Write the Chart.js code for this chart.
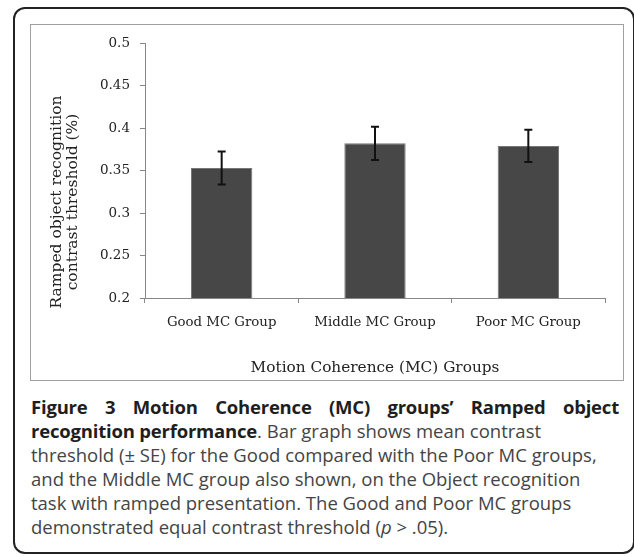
<!DOCTYPE html>
<html>
<head>
<meta charset="utf-8">
<script src="https://cdn.jsdelivr.net/npm/chart.js"></script>
<style>
  html, body { margin: 0; padding: 0; background: #fff; }
  body { width: 634px; height: 557px; position: relative; overflow: hidden; }
  #frame { position: absolute; left: 13px; top: 7px; width: 622px; height: 547px;
           border: 2px solid #222; border-radius: 12px; box-sizing: border-box; }
  #box { position: absolute; left: 30px; top: 24px; width: 594px; height: 357px;
         border: 1.5px solid #a0a0a0; box-sizing: border-box; }
  #myChart { position: absolute; left: 31px; top: 25px; }
  #caption { position: absolute; left: 31px; top: 395px; width: 588px;
             font-family: "Open Sans", sans-serif; font-size: 18.5px; line-height: 24px; color: #444; }
  #caption div { white-space: nowrap; }
  #caption b { color: #1e1e1e; letter-spacing: -0.2px; }
  .just { text-align: justify; text-align-last: justify; white-space: normal !important; }
</style>
</head>
<body>
<div id="frame"></div>
<div id="box"></div>
<canvas id="myChart" width="591" height="354"></canvas>
<div id="caption">
  <div class="just"><b>Figure 3 Motion Coherence (MC) groups’ Ramped object</b></div>
  <div><b>recognition performance</b>. Bar graph shows mean contrast</div>
  <div>threshold (± SE) for the Good compared with the Poor MC groups,</div>
  <div>and the Middle MC group also shown, on the Object recognition</div>
  <div>task with ramped presentation. The Good and Poor MC groups</div>
  <div>demonstrated equal contrast threshold (<i>p</i> &gt; .05).</div>
</div>
<script>
// data
var groups = ['Good MC Group', 'Middle MC Group', 'Poor MC Group'];
var means = [0.353, 0.382, 0.379];
var se = [0.0195, 0.0195, 0.019];
var yTicks = ['0.2', '0.25', '0.3', '0.35', '0.4', '0.45', '0.5'];
var yTitle = ['Ramped object recognition', 'contrast threshold (%)'];

var serif = 'DejaVu Serif';

// error bars (+/- SE) on top of the bars
var errorBars = {
    id: 'errorBars',
    afterDatasetsDraw: function (chart) {
        var ctx = chart.ctx;
        var y = chart.scales.y;
        var bars = chart.getDatasetMeta(0).data;
        ctx.save();
        ctx.strokeStyle = '#111';
        ctx.lineWidth = 2;
        bars.forEach(function (bar, i) {
            var top = y.getPixelForValue(means[i] + se[i]);
            var bot = y.getPixelForValue(means[i] - se[i]);
            ctx.beginPath();
            ctx.moveTo(bar.x, top); ctx.lineTo(bar.x, bot);
            ctx.moveTo(bar.x - 4, top); ctx.lineTo(bar.x + 4, top);
            ctx.moveTo(bar.x - 4, bot); ctx.lineTo(bar.x + 4, bot);
            ctx.stroke();
        });
        ctx.restore();
    }
};

// excel centres the y title on the whole chart box, not on the plot area
var sideTitle = {
    id: 'sideTitle',
    afterDraw: function (chart) {
        var ctx = chart.ctx;
        ctx.save();
        ctx.translate(26, chart.height / 2);
        ctx.rotate(-Math.PI / 2);
        ctx.fillStyle = '#222';
        ctx.font = '15.5px "' + serif + '"';
        ctx.textAlign = 'center';
        ctx.textBaseline = 'middle';
        yTitle.forEach(function (t, i) { ctx.fillText(t, 0, i * 16); });
        ctx.restore();
    }
};

var ctx = document.getElementById('myChart').getContext('2d');
var chart = new Chart(ctx, {
    type: 'bar',
    data: {
        labels: groups,
        datasets: [{
            data: means,
            backgroundColor: '#464746',
            borderColor: '#767676',
            borderWidth: 1,
            barPercentage: 0.4,
            categoryPercentage: 1
        }]
    },
    options: {
        responsive: false,
        animation: false,
        layout: { padding: { top: 18, right: 17, left: 0, bottom: 0 } },
        plugins: { legend: { display: false }, tooltip: { enabled: false } },
        scales: {
            y: {
                min: 0.2,
                max: 0.5,
                afterFit: function (s) { s.width = 114; },
                ticks: {
                    stepSize: 0.05,
                    padding: 10,
                    color: '#222',
                    font: { family: serif, size: 13.5 },
                    callback: function (v, i) { return yTicks[i]; }
                },
                grid: { drawOnChartArea: false, tickLength: 5, color: '#888' },
                border: { color: '#888', width: 1 },
                title: { display: false }
            },
            x: {
                afterFit: function (s) { s.height = 81; },
                ticks: {
                    padding: 12,
                    color: '#222',
                    font: { family: serif, size: 13.3 }
                },
                grid: { offset: true, drawOnChartArea: false, tickLength: 5, color: '#888' },
                border: { color: '#888', width: 1 },
                title: {
                    display: true,
                    text: 'Motion Coherence (MC) Groups',
                    color: '#222',
                    font: { family: serif, size: 15.3 },
                    padding: { top: 0, bottom: 2 }
                }
            }
        }
    },
    plugins: [errorBars, sideTitle]
});
</script>
</body>
</html>
